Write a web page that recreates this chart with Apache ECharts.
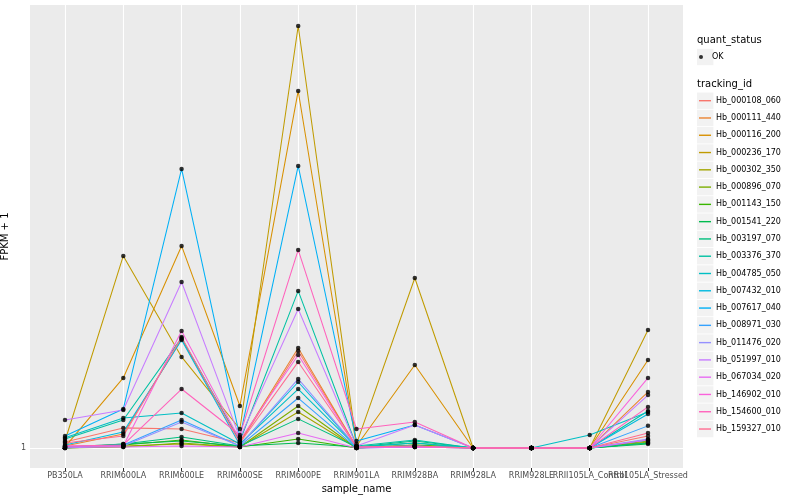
<!DOCTYPE html>
<html><head><meta charset="utf-8">
<script src="https://cdn.jsdelivr.net/npm/echarts@6/dist/echarts.min.js"></script>
<style>html,body{margin:0;padding:0;background:#fff}#c{width:800px;height:500px}</style>
</head><body><div id="c"></div>
<script>
// x categories
const categories = ['PB350LA','RRIM600LA','RRIM600LE','RRIM600SE','RRIM600PE','RRIM901LA','RRIM928BA','RRIM928LA','RRIM928LE','RRII105LA_Control','RRII105LA_Stressed'];
// y tick labels
const yTicks = [1];
// series (FPKM + 1), one value per category
const hb_000108_060 = [1.03, 1.104, 1.098, 1.025, 1.613, 1.005, 1.01, 1, 1, 1, 1.061];
const hb_000111_440 = [1.01, 1.071, 1.711, 1.03, 1.637, 1.005, 1.005, 1, 1, 1, 1.318];
const hb_000116_200 = [1.005, 1.412, 2.706, 1.23, 5.807, 1.01, 1.505, 1, 1, 1, 1.543];
const hb_000236_170 = [1.035, 2.576, 1.566, 1.098, 8.0, 1.02, 2.311, 1, 1, 1, 1.789];
const hb_000302_350 = [1, 1.01, 1.02, 1.005, 1.194, 1, 1.01, 1, 1, 1, 1.03];
const hb_000896_070 = [1, 1.005, 1.025, 1.005, 1.23, 1, 1.015, 1, 1, 1, 1.035];
const hb_001143_150 = [1.005, 1.015, 1.04, 1.005, 1.045, 1, 1.015, 1, 1, 1, 1.025];
const hb_001541_220 = [1, 1.02, 1.035, 1.01, 1.025, 1.005, 1.025, 1, 1, 1, 1.02];
const hb_003197_070 = [1.005, 1.02, 1.056, 1.01, 1.154, 1.005, 1.035, 1, 1, 1, 1.025];
const hb_003376_370 = [1.045, 1.148, 1.72, 1.035, 2.168, 1.01, 1.04, 1, 1, 1, 1.2];
const hb_004785_050 = [1.051, 1.159, 1.188, 1.02, 1.337, 1.005, 1.025, 1, 1, 1.066, 1.194];
const hb_007432_010 = [1.015, 1.082, 1.703, 1.015, 1.384, 1.005, 1.01, 1, 1, 1, 1.182];
const hb_007617_040 = [1.061, 1.212, 3.954, 1.056, 4.013, 1.035, 1.12, 1, 1, 1, 1.04];
const hb_008971_030 = [1.005, 1.015, 1.148, 1.01, 1.279, 1, 1.005, 1, 1, 1, 1.115];
const hb_011476_020 = [1, 1.01, 1.137, 1.01, 1.405, 1.005, 1.01, 1, 1, 1, 1.045];
const hb_051997_010 = [1.148, 1.206, 2.266, 1.051, 1.984, 1.01, 1.12, 1, 1, 1, 1.298];
const hb_067034_020 = [1.005, 1.005, 1.01, 1.005, 1.077, 1, 1.005, 1, 1, 1, 1.04];
const hb_146902_010 = [1.01, 1.01, 1.78, 1.04, 1.581, 1.005, 1.005, 1, 1, 1, 1.412];
const hb_154600_010 = [1.01, 1.015, 1.337, 1.066, 2.653, 1.098, 1.137, 1, 1, 1, 1.224];
const hb_159327_010 = [1.025, 1.061, 1.728, 1.025, 1.528, 1.005, 1.01, 1, 1, 1, 1.077];

const trackingIds = ['Hb_000108_060','Hb_000111_440','Hb_000116_200','Hb_000236_170','Hb_000302_350','Hb_000896_070','Hb_001143_150','Hb_001541_220','Hb_003197_070','Hb_003376_370','Hb_004785_050','Hb_007432_010','Hb_007617_040','Hb_008971_030','Hb_011476_020','Hb_051997_010','Hb_067034_020','Hb_146902_010','Hb_154600_010','Hb_159327_010'];
const seriesValues = [hb_000108_060,hb_000111_440,hb_000116_200,hb_000236_170,hb_000302_350,hb_000896_070,hb_001143_150,hb_001541_220,hb_003197_070,hb_003376_370,hb_004785_050,hb_007432_010,hb_007617_040,hb_008971_030,hb_011476_020,hb_051997_010,hb_067034_020,hb_146902_010,hb_154600_010,hb_159327_010];
const colors = ['#F8766D','#EA8331','#D89000','#C09B00','#A3A500','#7CAE00','#39B600','#00BB4E','#00BF7D','#00C1A3','#00BFC4','#00BAE0','#00B0F6','#35A2FF','#9590FF','#C77CFF','#E76BF3','#FA62DB','#FF62BC','#FF6C91'];
const statusName = 'OK';

const FONT = 'DejaVu Sans';
const catIdx = categories.map((c, i) => i);
// labels split over two axes so overlapping labels are all kept (as in the reference)
const labelIdxA = catIdx.filter(i => i % 2 === 0);
const labelIdxB = catIdx.filter(i => i % 2 === 1);

const series = trackingIds.map((id, i) => ({
  name: id, type: 'line', showSymbol: false, silent: true,
  data: seriesValues[i].map((v, j) => [j, v]),
  lineStyle: { color: colors[i], width: 1.05 },
  itemStyle: { color: colors[i] },
  emphasis: { disabled: true }, z: 2
}));
const pts = [];
seriesValues.forEach(arr => arr.forEach((v, j) => pts.push([j, v])));
series.push({
  name: statusName, type: 'scatter', data: pts, symbol: 'circle', symbolSize: 4.5,
  itemStyle: { color: '#000' }, silent: true, z: 3, emphasis: { disabled: true }
});

// legend key backgrounds (decorative)
const ROW = 17.28, FIRST = 100.7;
const graphics = [];
const keyRect = (cy) => ({ type: 'rect', left: 697, top: cy - 8.2, shape: { width: 16.4, height: 16.4 }, style: { fill: '#F2F2F2' }, z: 0 });
graphics.push(keyRect(57));
trackingIds.forEach((id, i) => graphics.push(keyRect(FIRST + i * ROW)));
graphics.push({ type: 'text', left: 697, top: 35, style: { text: 'quant_status', font: '10px "DejaVu Sans"', fill: '#000' } });
graphics.push({ type: 'text', left: 697, top: 79, style: { text: 'tracking_id', font: '10px "DejaVu Sans"', fill: '#000' } });

const labelStyle = { formatter: v => categories[Math.round(v)], fontSize: 8, fontFamily: FONT, color: '#4D4D4D', margin: 4, hideOverlap: false };

const chart = echarts.init(document.getElementById('c'), null, { renderer: 'canvas' });
chart.setOption({
  animation: false,
  backgroundColor: '#fff',
  grid: { left: 30, right: 117, top: 5, bottom: 32, show: true, backgroundColor: '#EBEBEB', borderWidth: 0, containLabel: false, outerBoundsMode: 'none' },
  xAxis: [{
    type: 'value', min: -0.6, max: 10.6, position: 'bottom',
    axisLine: { show: false },
    axisTick: { show: true, customValues: catIdx, length: 3, lineStyle: { color: '#333333', width: 1 } },
    axisLabel: Object.assign({ customValues: labelIdxA }, labelStyle),
    splitLine: { show: true, lineStyle: { color: '#FFFFFF', width: 1.1 } },
    name: 'sample_name', nameLocation: 'middle', nameGap: 16,
    nameTextStyle: { fontSize: 10, fontFamily: FONT, color: '#000' }
  }, {
    type: 'value', min: -0.6, max: 10.6, position: 'bottom', offset: 0,
    axisLine: { show: false }, axisTick: { show: false }, splitLine: { show: false },
    axisLabel: Object.assign({ customValues: labelIdxB }, labelStyle)
  }],
  yAxis: {
    type: 'log', logBase: 10, min: 0.906, max: 8.87,
    axisLine: { show: false },
    axisTick: { show: true, customValues: yTicks, length: 3, lineStyle: { color: '#333333', width: 1 } },
    axisLabel: { customValues: yTicks, formatter: v => String(Math.round(v)), fontSize: 8, fontFamily: FONT, color: '#4D4D4D', margin: 4 },
    splitLine: { show: true, lineStyle: { color: '#FFFFFF', width: 1.1 } },
    name: 'FPKM + 1', nameLocation: 'middle', nameGap: 14, nameRotate: 90,
    nameTextStyle: { fontSize: 10, fontFamily: FONT, color: '#000' }
  },
  legend: [
    { data: [statusName], orient: 'vertical', left: 699, top: 57 - ROW / 2, padding: 0, itemGap: 0, itemWidth: 12, itemHeight: 4, icon: 'circle',
      textStyle: { fontSize: 8, fontFamily: FONT, color: '#000', lineHeight: ROW }, selectedMode: false },
    { data: trackingIds, orient: 'vertical', left: 699, top: FIRST - ROW / 2, padding: 0, itemGap: 0, itemWidth: 12, itemHeight: 1.4, icon: 'rect',
      textStyle: { fontSize: 8, fontFamily: FONT, color: '#000', lineHeight: ROW }, selectedMode: false }
  ],
  graphic: graphics,
  series: series
});
</script></body></html>
